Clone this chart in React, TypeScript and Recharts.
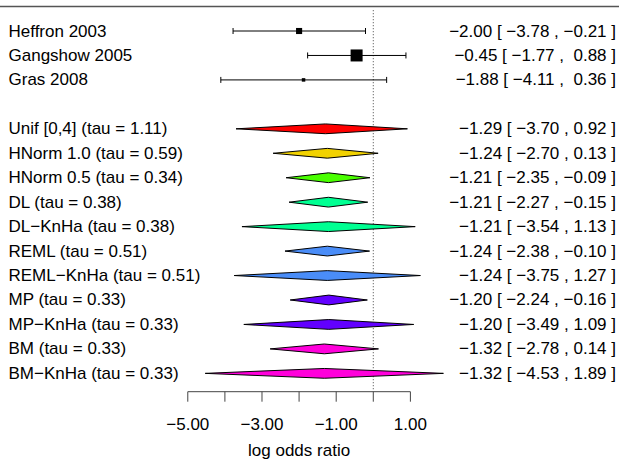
import React from "react"
import {
  ComposedChart,
  Scatter,
  ErrorBar,
  XAxis,
  YAxis,
  ReferenceLine,
  Label,
} from "recharts"

// individual studies
const studyNames = ["Heffron 2003", "Gangshow 2005", "Gras 2008"]
const studyEst = [-2.0, -0.45, -1.88]
const studyLo = [-3.78, -1.77, -4.11]
const studyHi = [-0.21, 0.88, 0.36]
const studyWeight = [28.9, 52.6, 18.5]

// pooled estimates per heterogeneity prior / estimator
const poolNames = [
  "Unif [0,4]",
  "HNorm 1.0",
  "HNorm 0.5",
  "DL",
  "DL−KnHa",
  "REML",
  "REML−KnHa",
  "MP",
  "MP−KnHa",
  "BM",
  "BM−KnHa",
]
const poolTau = [1.11, 0.59, 0.34, 0.38, 0.38, 0.51, 0.51, 0.33, 0.33, 0.33, 0.33]
const poolEst = [-1.29, -1.24, -1.21, -1.21, -1.21, -1.24, -1.24, -1.2, -1.2, -1.32, -1.32]
const poolLo = [-3.7, -2.7, -2.35, -2.27, -3.54, -2.38, -3.75, -2.24, -3.49, -2.78, -4.53]
const poolHi = [0.92, 0.13, -0.09, -0.15, 1.13, -0.1, 1.27, -0.16, 1.09, 0.14, 1.89]
const poolColors = [
  "#FF0000",
  "#F2D200",
  "#49FF00",
  "#00FF92",
  "#00FF92",
  "#4A8DF8",
  "#4A8DF8",
  "#6200FF",
  "#6200FF",
  "#FF00DB",
  "#FF00DB",
]

const xTicks = [-5, -4, -3, -2, -1, 0, 1]

const FONT = "Liberation Sans, Arial, Helvetica, sans-serif"
const FS = 17
const HALF_H = 0.2 // diamond half height in row units

const fmt = (v: number) => (v < 0 ? "−" + Math.abs(v).toFixed(2) : v.toFixed(2))

const studyRows = studyNames.map((_, i) => i)
const poolRows = poolNames.map((_, i) => i + studyNames.length + 1)

const studyData = studyNames.map((_, i) => ({
  x: studyEst[i],
  y: studyRows[i],
  err: [studyEst[i] - studyLo[i], studyHi[i] - studyEst[i]],
  w: studyWeight[i],
}))

const leftLabels = new Map<number, string>()
const rightLabels = new Map<number, string>()
studyNames.forEach((n, i) => {
  leftLabels.set(studyRows[i], n)
  const hi = (studyHi[i] >= 0 ? " " : "") + fmt(studyHi[i])
  rightLabels.set(studyRows[i], `${fmt(studyEst[i])} [ ${fmt(studyLo[i])} , ${hi} ]`)
})
poolNames.forEach((n, i) => {
  leftLabels.set(poolRows[i], `${n} (tau = ${poolTau[i].toFixed(2)})`)
  rightLabels.set(poolRows[i], `${fmt(poolEst[i])} [ ${fmt(poolLo[i])} , ${fmt(poolHi[i])} ]`)
})
const allRows = [...studyRows, ...poolRows]

const wMin = Math.min(...studyWeight)
const wMax = Math.max(...studyWeight)
const boxSize = (w: number) => 3.5 + ((w - wMin) / (wMax - wMin)) * 8.5

const StudyBox = (props: any) => {
  const { cx, cy, payload } = props
  const s = boxSize(payload.w)
  return <rect x={cx - s / 2} y={cy - s / 2} width={s} height={s} fill="#000" />
}

const NoDot = () => <g />

const LeftTick = (props: any) => {
  const { x, y, payload } = props
  return (
    <text x={x + 8.5} y={y} dy={5.5} fontSize={FS} fontFamily={FONT} fill="#000" textAnchor="start">
      {leftLabels.get(payload.value)}
    </text>
  )
}

const RightTick = (props: any) => {
  const { x, y, payload } = props
  return (
    <text
      x={x - 3}
      y={y}
      dy={5.5}
      fontSize={FS}
      fontFamily={FONT}
      fill="#000"
      textAnchor="end"
      style={{ whiteSpace: "pre" }}
    >
      {rightLabels.get(payload.value)}
    </text>
  )
}

export default function App() {
  return (
    <div style={{ position: "absolute", left: 0, top: 0, background: "#fff" }}>
      <ComposedChart width={619} height={463} margin={{ top: 6.55, right: -1, bottom: 0, left: -1 }}>
        <XAxis
          type="number"
          dataKey="x"
          domain={[-10.062, 6.623]}
          allowDataOverflow
          ticks={xTicks}
          interval={0}
          axisLine={false}
          tickLine={{ stroke: "#444" }}
          tickSize={10}
          tickMargin={16.2}
          height={71.3}
          tick={{ fontSize: FS, fontFamily: FONT, fill: "#000" }}
          tickFormatter={(v: number) => (v % 2 !== 0 ? fmt(v) : "")}
        />
        <YAxis
          yAxisId="left"
          type="number"
          dataKey="y"
          domain={[-1, 14.75]}
          allowDataOverflow
          reversed
          ticks={allRows}
          interval={0}
          width={1}
          axisLine={false}
          tickLine={false}
          tickSize={0}
          tickMargin={0}
          tick={<LeftTick />}
        />
        <YAxis
          yAxisId="right"
          orientation="right"
          type="number"
          domain={[-1, 14.75]}
          allowDataOverflow
          reversed
          ticks={allRows}
          interval={0}
          width={1}
          axisLine={false}
          tickLine={false}
          tickSize={0}
          tickMargin={0}
          tick={<RightTick />}
        />

        {/* frame line on top */}
        <ReferenceLine yAxisId="left" y={-1} stroke="#555" strokeWidth={1.5} />
        {/* null effect */}
        <ReferenceLine
          yAxisId="left"
          segment={[
            { x: 0, y: -0.85 },
            { x: 0, y: 14.65 },
          ]}
          stroke="#444"
          strokeDasharray="1 2"
        />
        {/* x axis line over the plotted range */}
        <ReferenceLine
          yAxisId="left"
          segment={[
            { x: -5, y: 14.75 },
            { x: 1, y: 14.75 },
          ]}
          stroke="#444"
        >
          <Label value="log odds ratio" position="bottom" offset={52.7} fontSize={FS} fontFamily={FONT} fill="#000" />
        </ReferenceLine>

        <Scatter
          yAxisId="left"
          data={studyData}
          shape={<StudyBox />}
          isAnimationActive={false}
          legendType="none"
        >
          <ErrorBar dataKey="err" direction="x" width={3} stroke="#000" strokeWidth={1} />
        </Scatter>

        {poolNames.map((n, i) => {
          const r = poolRows[i]
          const pts = [
            { x: poolLo[i], y: r },
            { x: poolEst[i], y: r - HALF_H },
            { x: poolHi[i], y: r },
            { x: poolEst[i], y: r + HALF_H },
            { x: poolLo[i], y: r },
          ]
          return (
            <Scatter
              key={n}
              yAxisId="left"
              data={pts}
              shape={NoDot}
              line={{ fill: poolColors[i], stroke: "#000", strokeWidth: 1 }}
              lineType="joint"
              isAnimationActive={false}
              legendType="none"
            />
          )
        })}
      </ComposedChart>
    </div>
  )
}
